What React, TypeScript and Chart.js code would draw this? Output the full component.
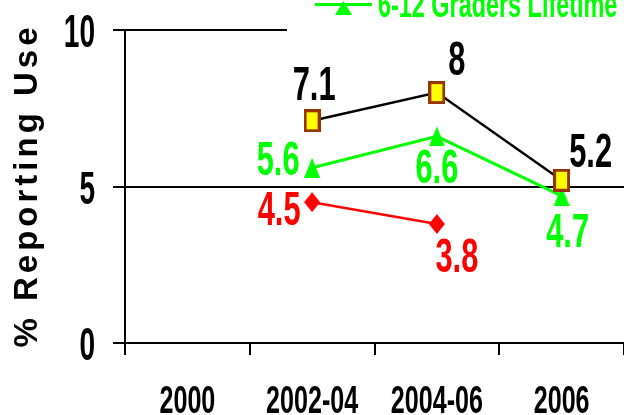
import { useEffect, useRef } from 'react';
import { Chart, registerables } from 'chart.js';

Chart.register(...registerables);

const categories = ['2000', '2002-04', '2004-06', '2006'];
const seriesBlack = [null, 7.1, 8, 5.2];
const seriesGreen = [null, 5.6, 6.6, 4.7];
const seriesRed = [null, 4.5, 3.8, null];
const yTicks = [0, 5, 10];
const greenLabel = '6-12 Graders Lifetime';
const yTitle = '% Reporting Use';

const FONT = '"Liberation Sans", Arial, sans-serif';
const GREEN = '#00FF00';
const RED = '#FF0000';

function drawText(ctx: CanvasRenderingContext2D, s: string, x: number, y: number, size: number, color: string, align: CanvasTextAlign, sx: number) {
  ctx.save();
  ctx.translate(x, y);
  ctx.scale(sx, 1);
  ctx.font = `bold ${size}px ${FONT}`;
  (ctx as any).letterSpacing = '0px';
  ctx.fillStyle = color;
  ctx.textAlign = align;
  ctx.textBaseline = 'alphabetic';
  ctx.fillText(s, 0, 0);
  ctx.restore();
}

function makeRect(w: number, h: number, fill: string, stroke: string, lw: number) {
  const c = document.createElement('canvas');
  c.width = w; c.height = h;
  const g = c.getContext('2d')!;
  g.fillStyle = fill;
  g.fillRect(0, 0, w, h);
  g.strokeStyle = stroke;
  g.lineWidth = lw;
  g.strokeRect(lw / 2, lw / 2, w - lw, h - lw);
  return c;
}
function makePoly(w: number, h: number, fill: string, pts: number[][]) {
  const c = document.createElement('canvas');
  c.width = w; c.height = h;
  const g = c.getContext('2d')!;
  g.fillStyle = fill;
  g.beginPath();
  pts.forEach(([px, py], i) => (i ? g.lineTo(px * w, py * h) : g.moveTo(px * w, py * h)));
  g.closePath();
  g.fill();
  return c;
}

// label offsets (dx, dy to baseline) relative to each point
const offBlack = [null, [2, -21], [20, -18], [29, -13]];
const offGreen = [null, [-34, 7], [0, 47], [6, 51]];
const offRed = [null, [-33, 23], [20, 48], null];

export default function App() {
  const ref = useRef<HTMLCanvasElement>(null);
  useEffect(() => {
    const square = makeRect(17, 23, '#FFFF00', '#993300', 3);
    const tri = makePoly(16, 20, GREEN, [[0.5, 0], [1, 1], [0, 1]]);
    const dia = makePoly(16, 20, RED, [[0.5, 0], [1, 0.5], [0.5, 1], [0, 0.5]]);
    const legTri = makePoly(17, 14, GREEN, [[0.5, 0], [1, 1], [0, 1]]);

    const textPlugin = {
      id: 'texts',
      afterDraw(chart: any) {
        const ctx: CanvasRenderingContext2D = chart.ctx;
        const xs = chart.scales.x;
        const ys = chart.scales.y;
        yTicks.forEach((v) => drawText(ctx, String(v), 95, ys.getPixelForValue(v) + 17, 46, '#000', 'right', 0.61));
        categories.forEach((c, i) => drawText(ctx, c, xs.getPixelForValue(i), 413, 38, '#000', 'center', 0.66));
        const sets: [any[], any[], string][] = [
          [seriesBlack, offBlack, '#000'],
          [seriesGreen, offGreen, GREEN],
          [seriesRed, offRed, RED],
        ];
        sets.forEach(([vals, offs, col]) => {
          vals.forEach((v: number | null, i: number) => {
            if (v == null || !offs[i]) return;
            const x = xs.getPixelForValue(i) + offs[i][0];
            const y = ys.getPixelForValue(v) + offs[i][1];
            drawText(ctx, String(v), x, y, 49, col, 'center', 0.63);
          });
        });
        // y title
        ctx.save();
        ctx.translate(37, 185.5);
        ctx.rotate(-Math.PI / 2);
        ctx.font = `bold 33px ${FONT}`;
        (ctx as any).letterSpacing = '4px';
        ctx.fillStyle = '#000';
        ctx.textAlign = 'center';
        ctx.textBaseline = 'alphabetic';
        ctx.fillText(yTitle, 0, 0);
        ctx.restore();
        // legend (partially visible, clipped at top)
        ctx.save();
        ctx.fillStyle = '#fff';
        ctx.fillRect(287, 0, 340, 33);
        ctx.strokeStyle = GREEN;
        ctx.lineWidth = 3;
        ctx.beginPath();
        ctx.moveTo(315, 4.5);
        ctx.lineTo(372, 4.5);
        ctx.stroke();
        ctx.drawImage(legTri, 335, 1);
        ctx.restore();
        drawText(ctx, greenLabel, 378, 17, 36, GREEN, 'left', 0.65);
      },
    };

    const chart = new Chart(ref.current!, {
      type: 'line',
      data: {
        labels: categories,
        datasets: [
          { label: 'Series 1', data: seriesBlack, borderColor: '#000', borderWidth: 2.5, pointStyle: square as any, pointRadius: 10 },
          { label: greenLabel, data: seriesGreen, borderColor: GREEN, borderWidth: 3, pointStyle: tri as any, pointRadius: 10 },
          { label: 'Series 3', data: seriesRed, borderColor: RED, borderWidth: 2.5, pointStyle: dia as any, pointRadius: 10 },
        ],
      },
      options: {
        responsive: false,
        animation: false,
        layout: { autoPadding: false, padding: { top: 30, right: -2, left: 0, bottom: 0 } },
        plugins: { legend: { display: false }, tooltip: { enabled: false }, title: { display: false } },
        scales: {
          x: {
            type: 'category',
            offset: true,
            grid: { offset: true, drawOnChartArea: false, drawTicks: true, tickLength: 12, color: '#000', lineWidth: 2 },
            border: { display: true, color: '#000', width: 2 },
            ticks: { display: false },
            afterFit: (s: any) => { s.height = 72; },
          },
          y: {
            min: 0,
            max: 10,
            ticks: { display: false, stepSize: 5 },
            grid: { color: '#000', lineWidth: 2, drawTicks: true, tickLength: 12 },
            border: { display: true, color: '#000', width: 2 },
            afterFit: (s: any) => { s.width = 125; },
          },
        },
      },
      plugins: [textPlugin],
    });
    return () => chart.destroy();
  }, []);
  return (
    <div style={{ position: 'fixed', left: 0, top: 0, width: 624, height: 415, background: '#fff', overflow: 'hidden' }}>
      <canvas ref={ref} width={624} height={415} style={{ display: 'block' }} />
    </div>
  );
}
